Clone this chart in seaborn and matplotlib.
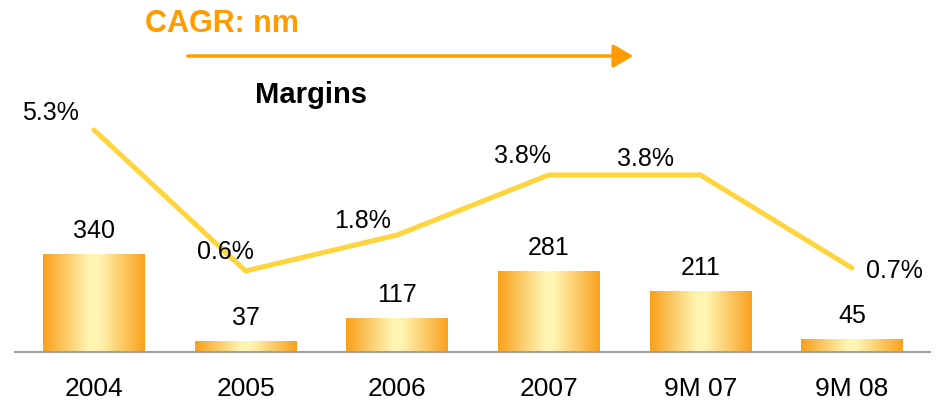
import numpy as np
import pandas as pd
import matplotlib
matplotlib.use('Agg')
import matplotlib.pyplot as plt
import seaborn as sns
from matplotlib.colors import LinearSegmentedColormap

# data
periods = ['2004', '2005', '2006', '2007', '9M 07', '9M 08']
values = [340, 37, 117, 281, 211, 45]
margins = [5.3, 0.6, 1.8, 3.8, 3.8, 0.7]
margin_labels = ['5.3%', '0.6%', '1.8%', '3.8%', '3.8%', '0.7%']

df = pd.DataFrame({'period': periods, 'value': values, 'margin': margins})

sns.set_style('white')
plt.rcParams['font.family'] = ['Liberation Sans', 'DejaVu Sans']

fig = plt.figure(figsize=(9.42, 4.04), dpi=100)
ax = fig.add_axes([15 / 942, 52 / 404, 915 / 942, 352 / 404])

sns.barplot(data=df, x='period', y='value', width=0.67, color='#F7A21B',
            ax=ax, zorder=2)

# horizontal gradient inside each bar: orange edges, pale yellow centre
grad_cmap = LinearSegmentedColormap.from_list(
    'bar', [(0, '#F8A01A'), (0.45, '#FFF4B2'), (0.55, '#FFF4B2'), (1, '#F9A21C')])
grad = np.linspace(0, 1, 256).reshape(1, -1)
for patch in ax.patches:
    x0, y0 = patch.get_x(), patch.get_y()
    w, h = patch.get_width(), patch.get_height()
    patch.set_facecolor('none')
    patch.set_edgecolor('none')
    img = ax.imshow(grad, cmap=grad_cmap, aspect='auto',
                    extent=[x0, x0 + w, y0, y0 + h], zorder=2)
    img.set_clip_path(patch)
ax.set_xlim(-0.521, 5.515)
ax.set_ylim(0, 1222)

for i, v in enumerate(values):
    ax.annotate(str(v), (i, v), xytext=(0, 8), textcoords='offset points',
                ha='center', va='bottom', fontsize=18, color='black')

ax.set_xlabel('')
ax.set_ylabel('')
ax.set_yticks([])
ax.tick_params(axis='x', length=0, labelsize=19, pad=18, labelcolor='black')
for s in ['top', 'right', 'left']:
    ax.spines[s].set_visible(False)
ax.spines['bottom'].set_color('#A0A0A0')
ax.spines['bottom'].set_linewidth(1.5)

# margin line on a twin axis
ax2 = ax.twinx()
sns.lineplot(x=list(range(len(margins))), y=margins, color='#FFD43C',
             linewidth=3.6, ax=ax2, zorder=3)
ax2.set_ylim(-2.1, 9.63)
ax2.set_xlim(-0.521, 5.515)
ax2.axis('off')

# label offsets in pixels around each point
offsets = [(-44, 17), (-20, 19), (-35, 14), (-26, 19), (-55, 16), (43, -3)]
for i, (m, lab) in enumerate(zip(margins, margin_labels)):
    ax2.annotate(lab, (i, m), xytext=offsets[i], textcoords='offset pixels',
                 ha='center', va='center', fontsize=18, color='black')

# headline and arrow
fig.text(222 / 942, 1 - 24 / 404, 'CAGR: nm', color='#FF9C00', fontsize=22,
         fontweight='bold', ha='center', va='center')
fig.add_artist(matplotlib.patches.FancyArrowPatch(
    (185 / 942, 1 - 56 / 404), (636 / 942, 1 - 56 / 404),
    transform=fig.transFigure, arrowstyle='-|>,head_length=6,head_width=3.5',
    color='#FF9C00', linewidth=2.5, mutation_scale=2))
fig.text(311 / 942, 1 - 95 / 404, 'Margins', color='black', fontsize=21,
         fontweight='bold', ha='center', va='center')

fig.savefig('out.png', dpi=100)
